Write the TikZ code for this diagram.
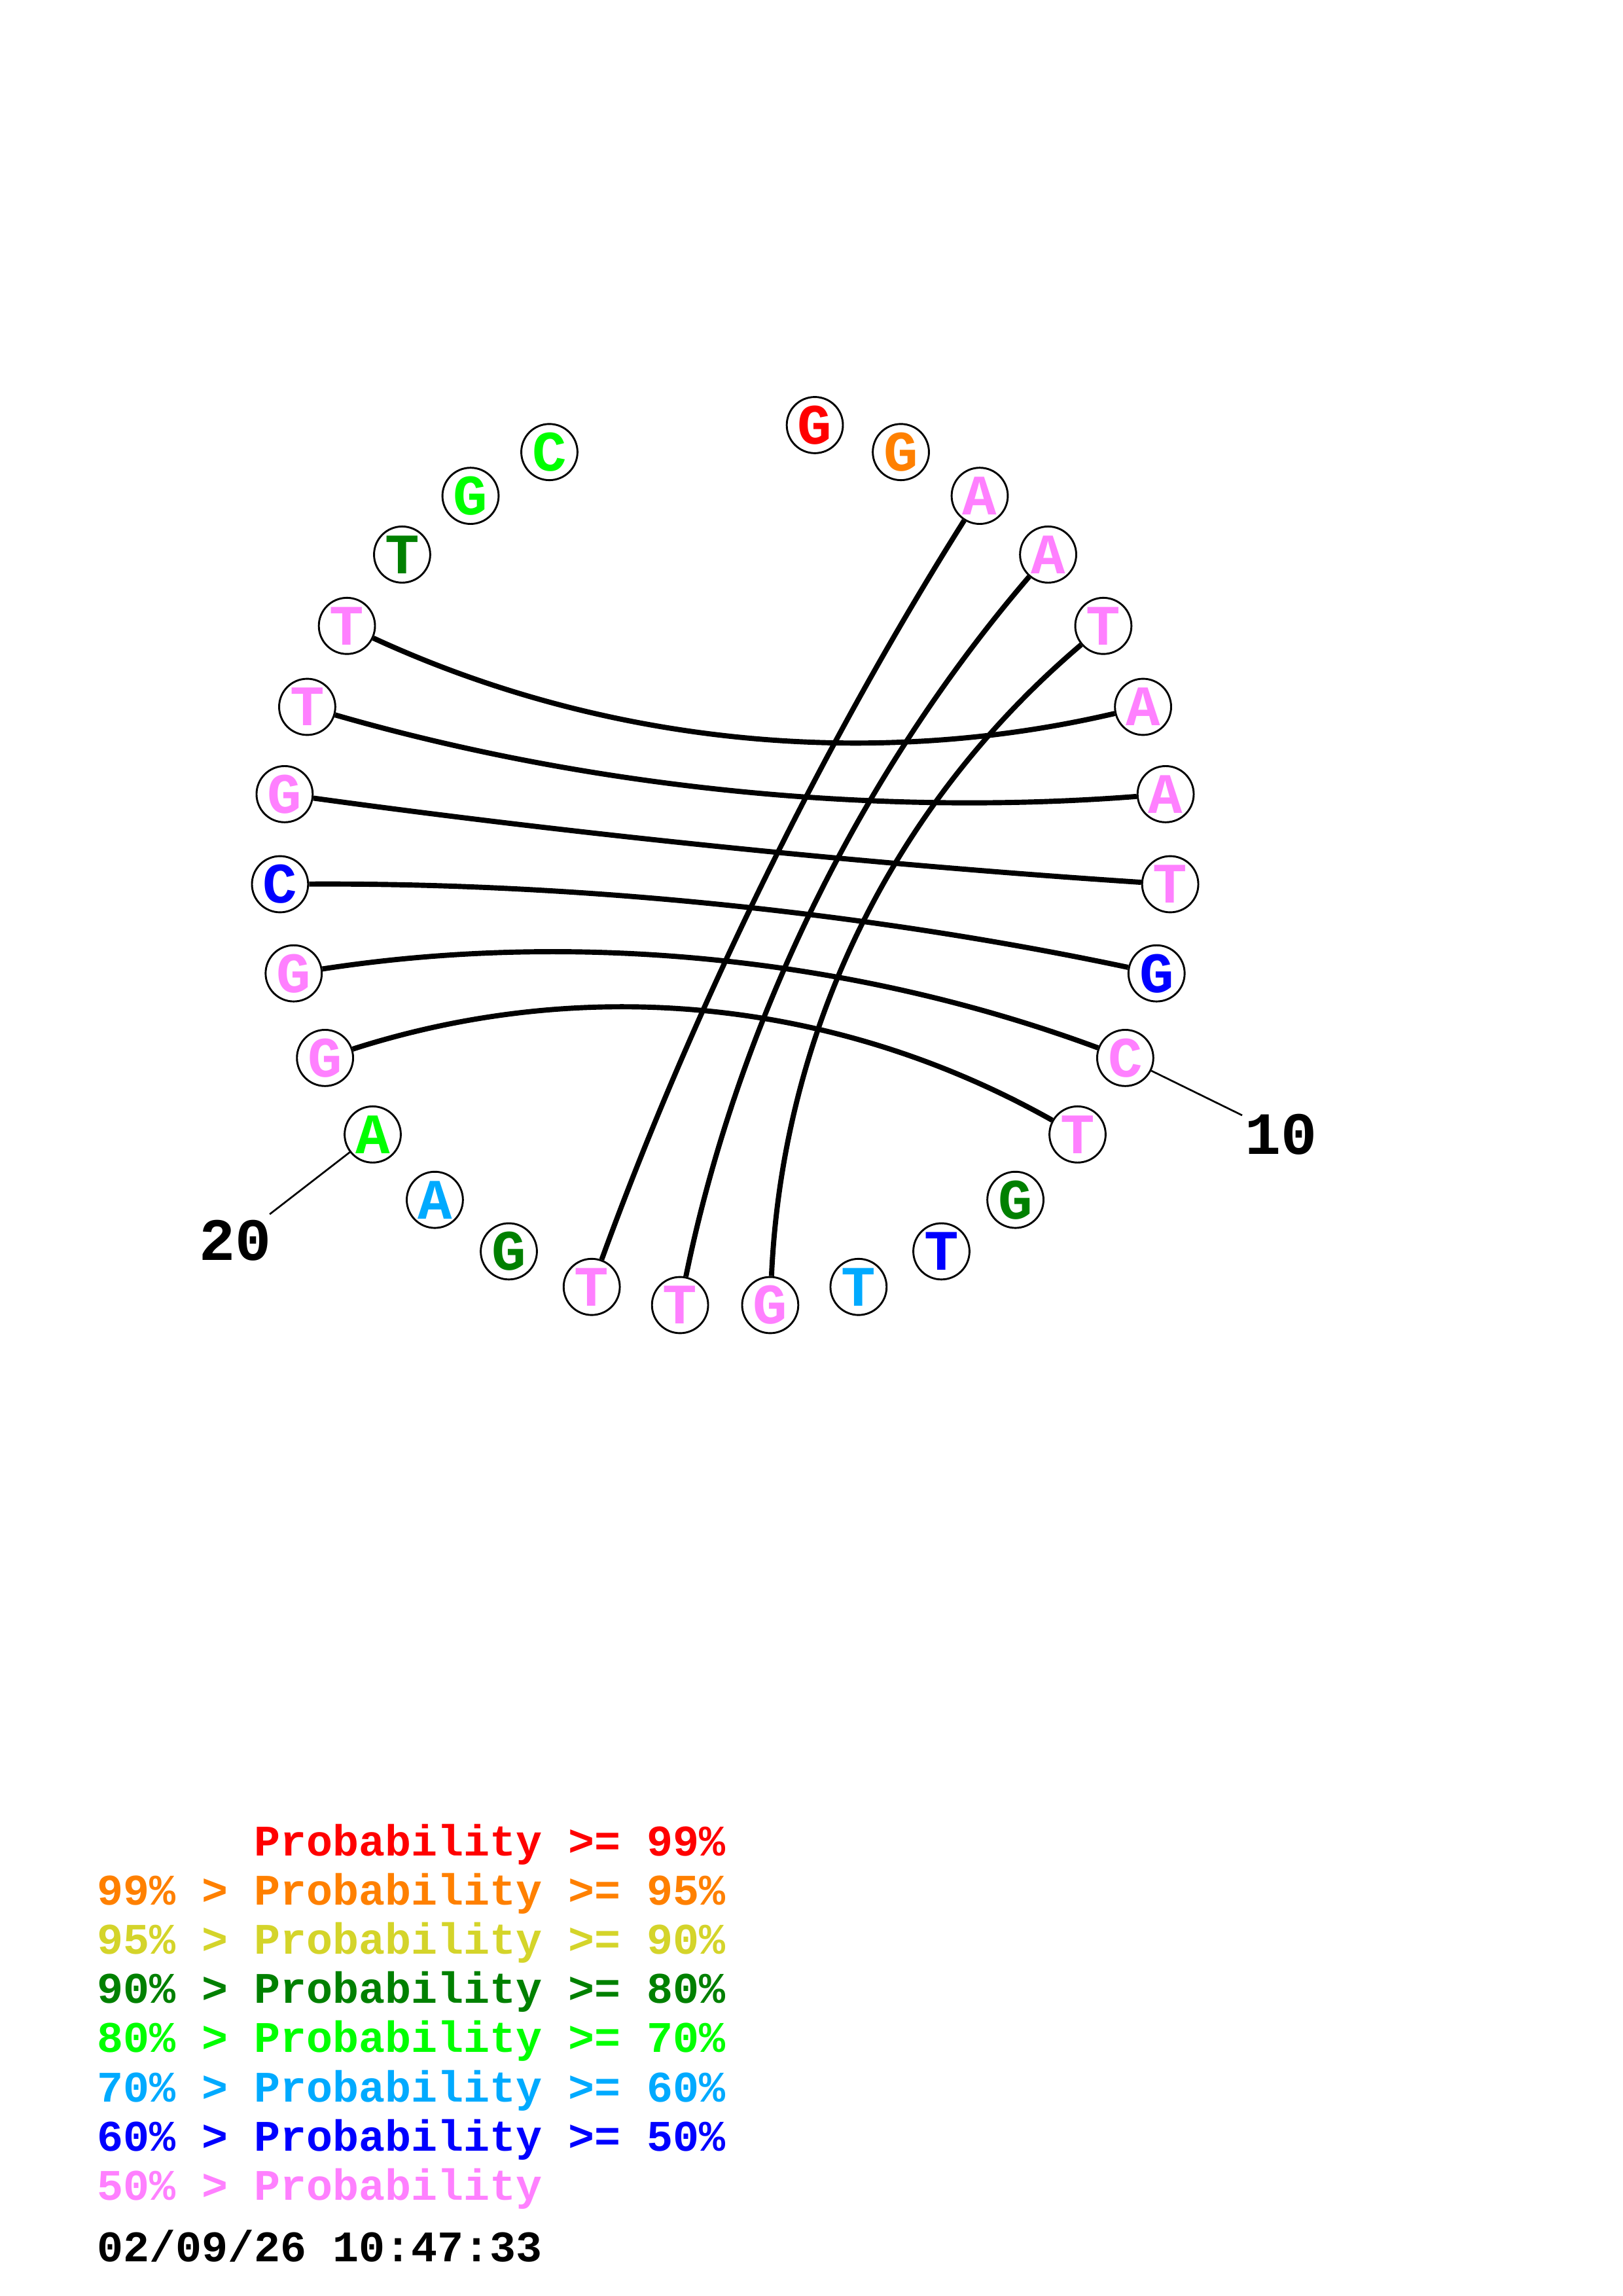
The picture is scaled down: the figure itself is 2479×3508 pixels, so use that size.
\documentclass[tikz,border=0pt]{standalone}
\usepackage{fontspec}
\setmonofont{Liberation Mono}
\usetikzlibrary{calc}
\definecolor{cA}{RGB}{255,0,0}
\definecolor{cB}{RGB}{255,128,0}
\definecolor{cC}{RGB}{212,212,42}
\definecolor{cD}{RGB}{0,128,0}
\definecolor{cE}{RGB}{0,255,0}
\definecolor{cF}{RGB}{0,170,255}
\definecolor{cG}{RGB}{0,0,255}
\definecolor{cH}{RGB}{255,128,255}
\begin{document}
\begin{tikzpicture}[x=0.24pt,y=-0.24pt,
  nuc/.style={circle,draw=black,line width=0.7pt,minimum size=20.6pt,inner sep=0pt,
    font=\fontsize{21}{21}\selectfont\ttfamily\bfseries},
  pairline/.style={line width=1.9pt},
  ticklabel/.style={line width=0.65pt},
  numlab/.style={inner sep=0pt,font=\fontsize{22}{22}\selectfont\ttfamily\bfseries},
  legend/.style={anchor=base west,inner sep=0pt,font=\fontsize{16}{16}\selectfont\ttfamily\bfseries}]
\useasboundingbox (0,0) rectangle (2479,3508);
\coordinate (ctr) at (1108,1316.5);
\foreach \i/\b/\c in {1/G/cA,2/G/cB,3/A/cH,4/A/cH,5/T/cH,6/A/cH,7/A/cH,8/T/cH,9/G/cG,10/C/cH,
  11/T/cH,12/G/cD,13/T/cG,14/T/cF,15/G/cH,16/T/cH,17/T/cH,18/G/cD,19/A/cF,20/A/cE,
  21/G/cH,22/G/cH,23/C/cG,24/G/cH,25/T/cH,26/T/cH,27/T/cD,28/G/cE,29/C/cE} {
  \pgfmathsetmacro\ang{\i*360/31}
  \node[nuc,text=\c] (n\i) at ({1108+681*sin(\ang)},{1316.5-681*cos(\ang)}) {\b};
}
\foreach \a/\b in {26/6,25/7,24/8,23/9,22/10,21/11,3/17,4/16,5/15} {
  \coordinate (q\a) at ($(n\a.center)!0.5!(n\b.center)!0.7!(ctr)$);
  \draw[pairline] (n\a) .. controls ($(n\a.center)!0.6667!(q\a)$) and ($(n\b.center)!0.6667!(q\a)$) .. (n\b);
}
\foreach \k in {10,20} {
  \pgfmathsetmacro\ang{\k*360/31}
  \coordinate (t\k) at ({1108+880*sin(\ang)},{1316.5-880*cos(\ang)});
  \draw[ticklabel] (n\k) -- (t\k);
  \node[numlab] (l\k) at ({1108+946*sin(\ang)},{1316.5-946*cos(\ang)}) {\k};
}
\node[legend,text=cA] (g1) at (148,2835) {\phantom{99\% > }Probability >= 99\%};
\node[legend,text=cB] (g2) at (148,2910.2) {99\% > Probability >= 95\%};
\node[legend,text=cC] (g3) at (148,2985.4) {95\% > Probability >= 90\%};
\node[legend,text=cD] (g4) at (148,3060.6) {90\% > Probability >= 80\%};
\node[legend,text=cE] (g5) at (148,3135.8) {80\% > Probability >= 70\%};
\node[legend,text=cF] (g6) at (148,3211) {70\% > Probability >= 60\%};
\node[legend,text=cG] (g7) at (148,3286.2) {60\% > Probability >= 50\%};
\node[legend,text=cH] (g8) at (148,3361.4) {50\% > Probability};
\node[legend,text=black] (dt) at (148,3455) {02/09/26 10:47:33};
\end{tikzpicture}
\end{document}
